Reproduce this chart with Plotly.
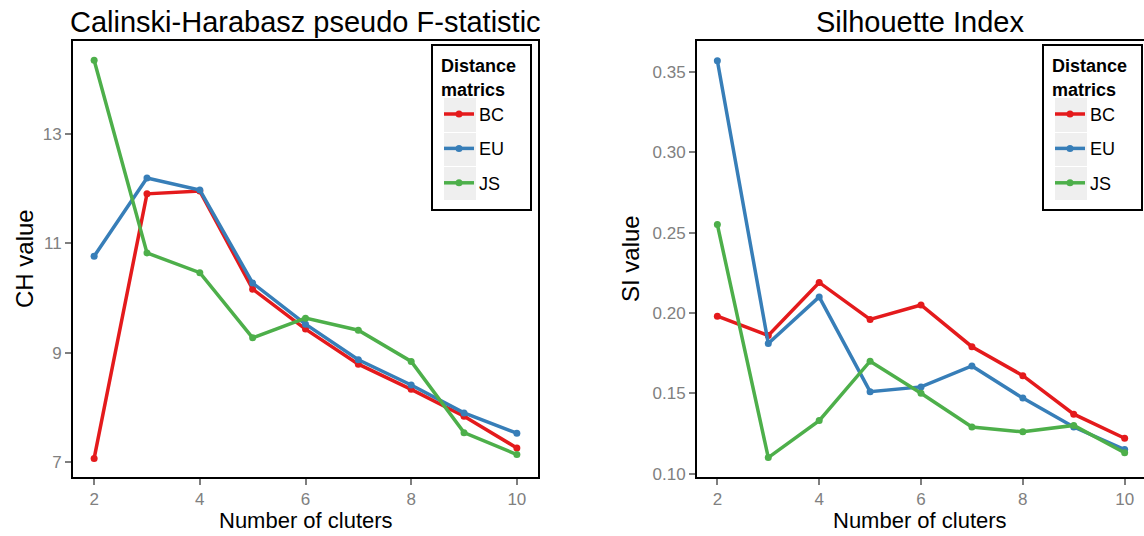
import plotly.graph_objects as go

clusters = [2, 3, 4, 5, 6, 7, 8, 9, 10]
series_names = ["BC", "EU", "JS"]
colors = {"BC": "#E41A1C", "EU": "#377EB8", "JS": "#4DAF4A"}

ch_bc = [7.07, 11.90, 11.95, 10.16, 9.43, 8.79, 8.33, 7.84, 7.26]
ch_eu = [10.76, 12.19, 11.97, 10.27, 9.52, 8.87, 8.41, 7.90, 7.53]
ch_js = [14.34, 10.82, 10.46, 9.27, 9.63, 9.41, 8.84, 7.54, 7.14]

si_bc = [0.198, 0.186, 0.219, 0.196, 0.205, 0.179, 0.161, 0.137, 0.122]
si_eu = [0.357, 0.181, 0.210, 0.151, 0.154, 0.167, 0.147, 0.129, 0.115]
si_js = [0.255, 0.110, 0.133, 0.170, 0.150, 0.129, 0.126, 0.130, 0.113]

x_ticks = [2, 4, 6, 8, 10]
ch_ticks = [7, 9, 11, 13]
si_ticks = [0.10, 0.15, 0.20, 0.25, 0.30, 0.35]

W, H = 1144, 536
FONT = "Liberation Sans, Arial, sans-serif"

fig = go.Figure()
ch = {"BC": ch_bc, "EU": ch_eu, "JS": ch_js}
si = {"BC": si_bc, "EU": si_eu, "JS": si_js}
for name in series_names:
    fig.add_trace(go.Scatter(x=clusters, y=ch[name], mode="lines+markers", name=name,
                             line=dict(color=colors[name], width=3.5),
                             marker=dict(color=colors[name], size=7),
                             xaxis="x", yaxis="y", legend="legend", legendgroup="a" + name))
for name in series_names:
    fig.add_trace(go.Scatter(x=clusters, y=si[name], mode="lines+markers", name=name,
                             line=dict(color=colors[name], width=3.5),
                             marker=dict(color=colors[name], size=7),
                             xaxis="x2", yaxis="y2", legend="legend2", legendgroup="b" + name))

def px_x(p):
    return min(max(p / W, 0), 1)

def px_y(p):
    return min(max(1 - p / H, 0), 1)

box_top, box_bot = 41, 477
axis_common = dict(showline=True, mirror=True, linecolor="black", linewidth=2,
                   showgrid=False, zeroline=False, ticks="outside", ticklen=6,
                   tickcolor="#7f7f7f", tickwidth=1.8, automargin=False,
                   ticklabelstandoff=0,
                   tickfont=dict(family=FONT, size=17, color="#808080"))

legend_common = dict(yanchor="top", xanchor="left", bgcolor="rgba(0,0,0,0)",
                     borderwidth=0,
                     title=dict(text="<b>Distance<br>matrics</b>", font=dict(size=18, color="black")),
                     font=dict(size=18, color="black"), tracegroupgap=8, indentation=0)

shapes = []
for lx in (432, 1043):
    shapes.append(dict(type="rect", xref="paper", yref="paper", layer="above",
                       x0=px_x(lx), x1=px_x(lx + 99), y0=px_y(210), y1=px_y(45),
                       fillcolor="white", line=dict(width=2, color="black")))
    for (a, b) in [(98, 132), (133, 166), (167, 200)]:
        shapes.append(dict(type="rect", xref="paper", yref="paper", layer="above",
                           x0=px_x(lx + 12), x1=px_x(lx + 44), y0=px_y(b), y1=px_y(a),
                           fillcolor="#efefef", line=dict(width=0)))

fig.update_layout(
    width=W, height=H,
    margin=dict(l=0, r=0, t=0, b=0),
    paper_bgcolor="white", plot_bgcolor="white",
    font=dict(family=FONT),
    xaxis=dict(domain=[px_x(73), px_x(538)], range=[1.6, 10.4], tickvals=x_ticks,
               anchor="y", **axis_common),
    yaxis=dict(domain=[px_y(box_bot), px_y(box_top)], range=[6.73, 14.69], tickvals=ch_ticks,
               anchor="x", **axis_common),
    xaxis2=dict(domain=[px_x(697), px_x(1144)], range=[1.6, 10.38], tickvals=x_ticks,
                anchor="y2", **axis_common),
    yaxis2=dict(domain=[px_y(box_bot), px_y(box_top)], range=[0.0979, 0.3693], tickvals=si_ticks,
                tickformat=".2f", anchor="x2", **axis_common),
    legend=dict(x=px_x(439), y=px_y(49), **legend_common),
    legend2=dict(x=px_x(1050), y=px_y(49), **legend_common),
    shapes=shapes,
    annotations=[
        dict(text="Calinski-Harabasz pseudo F-statistic", xref="paper", yref="paper",
             x=px_x(305), y=px_y(22), xanchor="center", yanchor="middle", showarrow=False,
             font=dict(size=29, color="black", family=FONT)),
        dict(text="Silhouette Index", xref="paper", yref="paper",
             x=px_x(920), y=px_y(22), xanchor="center", yanchor="middle", showarrow=False,
             font=dict(size=29, color="black", family=FONT)),
        dict(text="Number of cluters", xref="paper", yref="paper",
             x=px_x(306), y=px_y(535), xanchor="center", yanchor="bottom", showarrow=False,
             font=dict(size=22, color="black", family=FONT)),
        dict(text="Number of cluters", xref="paper", yref="paper",
             x=px_x(920), y=px_y(535), xanchor="center", yanchor="bottom", showarrow=False,
             font=dict(size=22, color="black", family=FONT)),
        dict(text="CH value", xref="paper", yref="paper", textangle=-90,
             x=px_x(25), y=px_y(259), xanchor="center", yanchor="middle", showarrow=False,
             font=dict(size=24, color="black", family=FONT)),
        dict(text="SI value", xref="paper", yref="paper", textangle=-90,
             x=px_x(631), y=px_y(259), xanchor="center", yanchor="middle", showarrow=False,
             font=dict(size=24, color="black", family=FONT)),
    ],
)

fig.write_html("out.html")
